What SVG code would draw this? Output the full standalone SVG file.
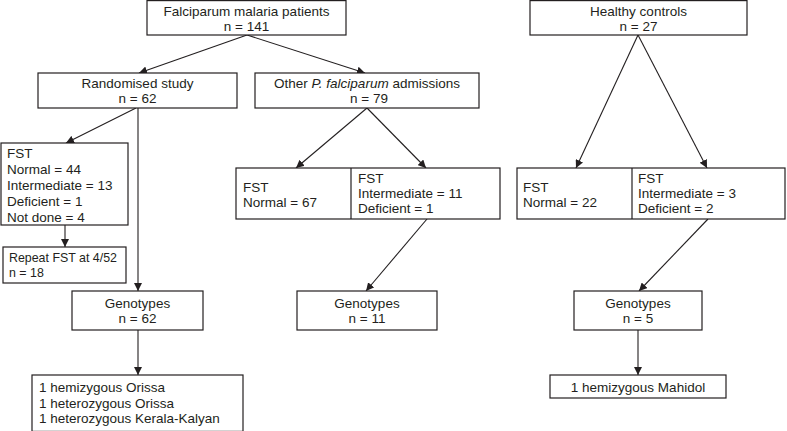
<svg xmlns="http://www.w3.org/2000/svg" width="787" height="431" viewBox="0 0 787 431">
<style>
rect{fill:#fff;stroke:#231f20;stroke-width:1.2}
text{font-family:"Liberation Sans",Arial,sans-serif;font-size:13.5px;fill:#231f20}
.c{text-anchor:middle}
.s{font-size:12.4px}
.conn line{stroke:#231f20;stroke-width:1.1;marker-end:url(#ah)}
.div{stroke:#231f20;stroke-width:1.2}
</style>
<defs>
<marker id="ah" viewBox="0 0 10 10" refX="10" refY="5" markerWidth="8" markerHeight="8" markerUnits="userSpaceOnUse" orient="auto">
<path d="M0,0 L10,5 L0,10 Z" fill="#231f20"/>
</marker>
</defs>
<rect width="787" height="431" style="stroke:none"/>
<g class="conn">
<line x1="247" y1="35" x2="139" y2="73"/>
<line x1="247" y1="35" x2="365" y2="73"/>
<line x1="638" y1="35" x2="576" y2="168"/>
<line x1="638" y1="35" x2="707" y2="168"/>
<line x1="136" y1="108" x2="66" y2="143"/>
<line x1="138" y1="108" x2="138" y2="291"/>
<line x1="65" y1="225" x2="65" y2="247"/>
<line x1="138" y1="330" x2="138" y2="375"/>
<line x1="367" y1="108" x2="296" y2="168"/>
<line x1="367" y1="108" x2="426" y2="168"/>
<line x1="427" y1="219" x2="366" y2="291"/>
<line x1="708" y1="219" x2="639" y2="291"/>
<line x1="638" y1="330" x2="638" y2="375"/>
</g>
<g id="n-patients"><rect x="147" y="0.6" width="199" height="34.4"/><text class="c" x="246.5" y="15.5">Falciparum malaria patients</text><text class="c" x="246.5" y="31">n = 141</text></g>
<g id="n-healthy"><rect x="530" y="0.6" width="217" height="34.4"/><text class="c" x="638.5" y="15.5">Healthy controls</text><text class="c" x="638.5" y="31">n = 27</text></g>
<g id="n-random"><rect x="38" y="73" width="199" height="35"/><text class="c" x="137.5" y="88">Randomised study</text><text class="c" x="137.5" y="103">n = 62</text></g>
<g id="n-other"><rect x="255" y="73" width="224" height="35"/><text class="c" x="367" y="88">Other <tspan font-style="italic">P. falciparum</tspan> admissions</text><text class="c" x="369" y="103">n = 79</text></g>
<g id="n-fst-left"><rect x="1" y="143" width="127" height="82"/><text x="7" y="157.5">FST</text><text x="7" y="173.5">Normal = 44</text><text x="7" y="189.5">Intermediate = 13</text><text x="7" y="205.5">Deficient = 1</text><text x="7" y="221.5">Not done = 4</text></g>
<g id="n-repeat"><rect x="3" y="247" width="123" height="36"/><text class="s" x="9" y="262">Repeat FST at 4/52</text><text class="s" x="9" y="277">n = 18</text></g>
<g id="n-geno62"><rect x="72" y="291" width="131" height="39"/><text class="c" x="137.5" y="308">Genotypes</text><text class="c" x="137.5" y="323">n = 62</text></g>
<g id="n-res62"><rect x="32" y="375" width="211" height="56.4"/><text x="39" y="392">1 hemizygous Orissa</text><text x="39" y="407.5">1 heterozygous Orissa</text><text x="39" y="423">1 heterozygous Kerala-Kalyan</text></g>
<g id="n-fst-mid"><rect x="236" y="168" width="264" height="51"/><line class="div" x1="351" y1="168" x2="351" y2="219"/><text x="243" y="192">FST</text><text x="243" y="207">Normal = 67</text><text x="358" y="183">FST</text><text x="358" y="198">Intermediate = 11</text><text x="358" y="213">Deficient = 1</text></g>
<g id="n-geno11"><rect x="297" y="291" width="140" height="39"/><text class="c" x="367" y="308">Genotypes</text><text class="c" x="367" y="323">n = 11</text></g>
<g id="n-fst-right"><rect x="517" y="168" width="268" height="51"/><line class="div" x1="632" y1="168" x2="632" y2="219"/><text x="523" y="192">FST</text><text x="523" y="207">Normal = 22</text><text x="638" y="183">FST</text><text x="638" y="198">Intermediate = 3</text><text x="638" y="213">Deficient = 2</text></g>
<g id="n-geno5"><rect x="574" y="291" width="128" height="39"/><text class="c" x="638" y="308">Genotypes</text><text class="c" x="638" y="323">n = 5</text></g>
<g id="n-res5"><rect x="550" y="375" width="176" height="23"/><text class="c" x="638" y="392">1 hemizygous Mahidol</text></g>
</svg>
